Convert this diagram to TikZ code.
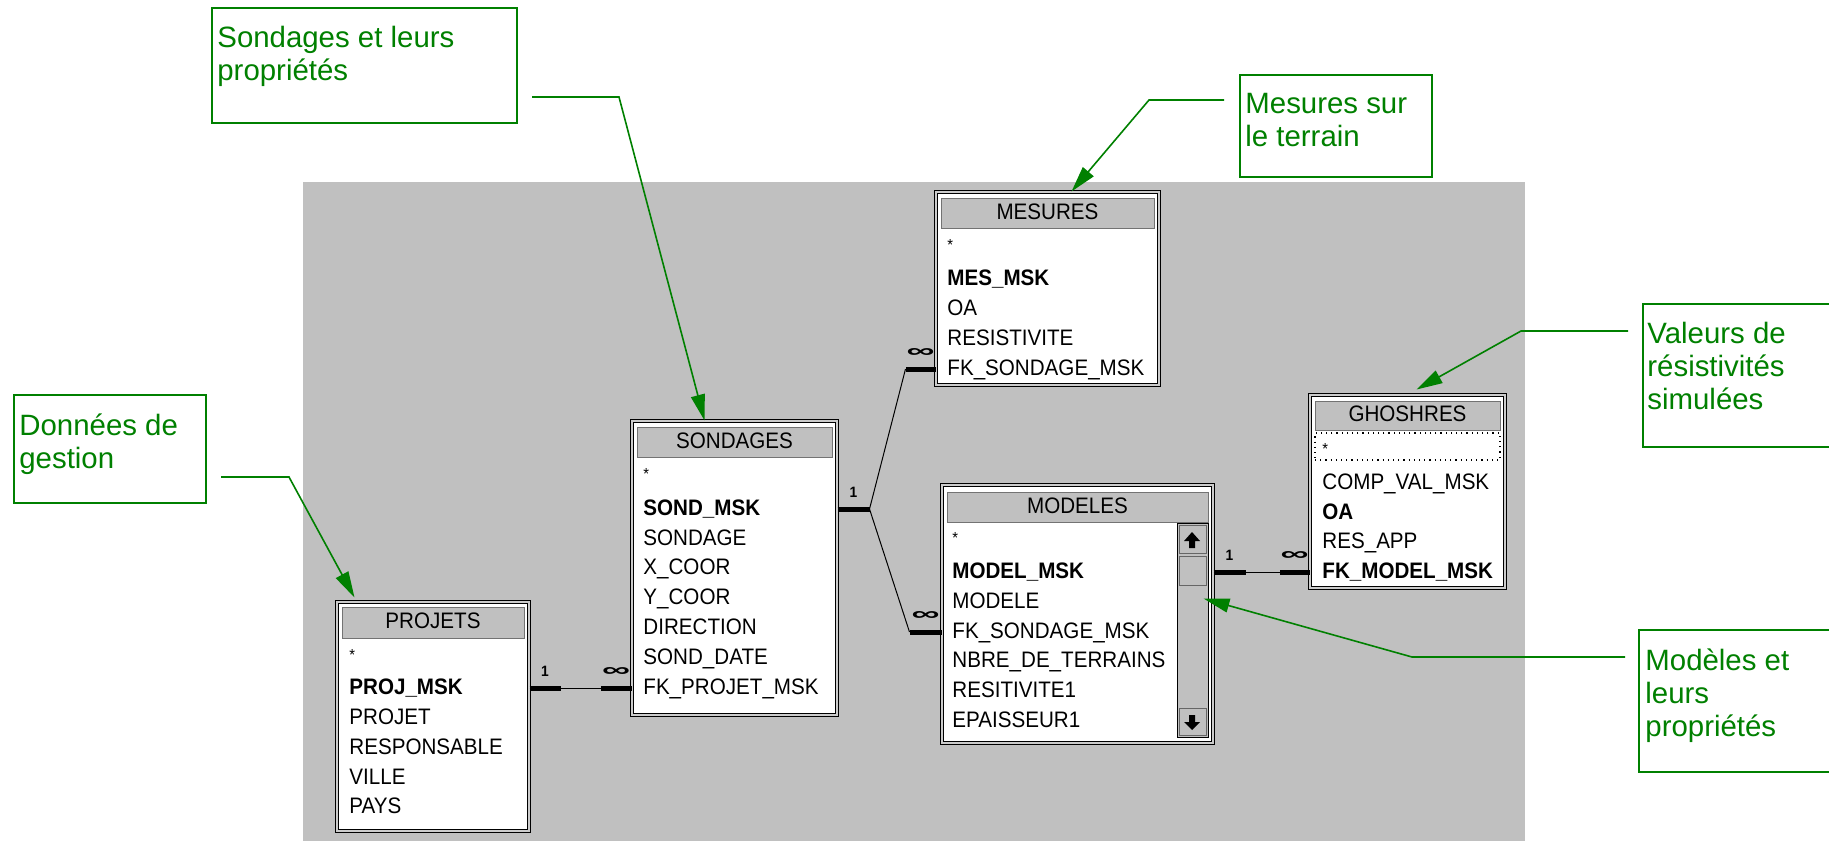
\documentclass[tikz,border=0pt]{standalone}
\usepackage{fontspec}
\usepackage{graphicx}
\setmainfont{Liberation Sans}
\newfontfamily\tblfont[FakeStretch=0.92]{Liberation Sans}
\usetikzlibrary{arrows.meta,fit}
\definecolor{winsilver}{RGB}{192,192,192}
\definecolor{callgreen}{RGB}{0,128,0}
\newcommand{\tblsize}{\fontsize{11.2}{13}\selectfont}
\newcommand{\callsize}{\fontsize{14.7}{16.5}\selectfont}
\newcommand{\many}{\resizebox{14pt}{4.5pt}{∞}}

\begin{document}
\begin{tikzpicture}[x=0.5pt, y=-0.5pt,
    tbl/.style={draw=black, line width=0.5pt, double=black!20, double distance=0.8pt, fill=white, inner sep=0pt},
    titlebar/.style={draw=black!55, fill=winsilver, line width=0.5pt, inner sep=0pt},
    tname/.style={font=\tblfont\tblsize, inner sep=0pt, text height=6pt, text depth=0pt},
    field/.style={anchor=base west, font=\tblfont\tblsize, inner sep=0pt, text height=6pt, text depth=0pt},
    keyfield/.style={field, font=\tblfont\tblsize\bfseries},
    star/.style={anchor=west, font=\tblfont\fontsize{8}{8}\selectfont, inner sep=0pt},
    rel/.style={draw=black, line width=0.5pt},
    relend/.style={draw=black, line width=2.5pt},
    card/.style={above=4.5pt, inner sep=0pt, text depth=0pt, font=\tblfont\fontsize{7.5}{8}\selectfont\bfseries},
    sbbutton/.style={draw=black!60, fill=winsilver, line width=0.5pt, inner sep=0pt},
    callbox/.style={draw=callgreen, line width=0.8pt, fill=white, inner sep=0pt},
    calltext/.style={anchor=base west, inner sep=0pt, text=callgreen, font=\callsize},
    callout/.style={draw=callgreen, line width=0.8pt, -{Triangle[length=13pt, width=7pt]}}
]
    \useasboundingbox (0,0) rectangle (1829,841);

    % Relationship window background
    \fill[winsilver] (303,182) rectangle (1525,841);

    % Callout boxes
    \node[callbox, fit={(212,8) (517,123)}] (callSond) {};
    \node[calltext] (callSondA) at (217,47) {Sondages et leurs};
    \node[calltext] (callSondB) at (217,80) {propriétés};

    \node[callbox, fit={(1240,75) (1432,177)}] (callMes) {};
    \node[calltext] (callMesA) at (1245,113) {Mesures sur};
    \node[calltext] (callMesB) at (1245,146) {le terrain};

    \node[callbox, fit={(1643,304) (1845,447)}] (callVal) {};
    \node[calltext] (callValA) at (1647,343) {Valeurs de};
    \node[calltext] (callValB) at (1647,376) {résistivités};
    \node[calltext] (callValC) at (1647,409) {simulées};

    \node[callbox, fit={(1639,630) (1845,772)}] (callMod) {};
    \node[calltext] (callModA) at (1645,670) {Modèles et};
    \node[calltext] (callModB) at (1645,703) {leurs};
    \node[calltext] (callModC) at (1645,736) {propriétés};

    \node[callbox, fit={(14,395) (206,503)}] (callDon) {};
    \node[calltext] (callDonA) at (19,435) {Données de};
    \node[calltext] (callDonB) at (19,468) {gestion};

    % PROJETS
    \node[tbl, fit={(337,602) (529,831)}] (projets) {};
    \node[titlebar, fit={(342,607) (524,638)}] (projetsT) {};
    \node[tname] (projetsN) at (projetsT) {PROJETS};
    \node[star] (projetsS) at (349,655) {*};
    \node[keyfield] (projmsk) at (349,694) {PROJ\_MSK};
    \node[field] (projet) at (349,724) {PROJET};
    \node[field] (responsable) at (349,754) {RESPONSABLE};
    \node[field] (ville) at (349,784) {VILLE};
    \node[field] (pays) at (349,813) {PAYS};

    % SONDAGES
    \node[tbl, fit={(632,421) (837,715)}] (sondages) {};
    \node[titlebar, fit={(637,427) (832,457)}] (sondagesT) {};
    \node[tname] (sondagesN) at (sondagesT) {SONDAGES};
    \node[star] (sondagesS) at (643,474) {*};
    \node[keyfield] (sondmsk) at (643,515) {SOND\_MSK};
    \node[field] (sondage) at (643,545) {SONDAGE};
    \node[field] (xcoor) at (643,574) {X\_COOR};
    \node[field] (ycoor) at (643,604) {Y\_COOR};
    \node[field] (direction) at (643,634) {DIRECTION};
    \node[field] (sonddate) at (643,664) {SOND\_DATE};
    \node[field] (fkprojet) at (643,694) {FK\_PROJET\_MSK};

    % MESURES
    \node[tbl, fit={(936,192) (1159,385)}] (mesures) {};
    \node[titlebar, fit={(941,198) (1154,228)}] (mesuresT) {};
    \node[tname] (mesuresN) at (mesuresT) {MESURES};
    \node[star] (mesuresS) at (947,245) {*};
    \node[keyfield] (mesmsk) at (947,285) {MES\_MSK};
    \node[field] (oa) at (947,315) {OA};
    \node[field] (resistivite) at (947,345) {RESISTIVITE};
    \node[field] (fksondmes) at (947,375) {FK\_SONDAGE\_MSK};

    % MODELES
    \node[tbl, fit={(942,485) (1213,743)}] (modeles) {};
    \node[titlebar, fit={(947,492) (1208,522)}] (modelesT) {};
    \node[tname] (modelesN) at (modelesT) {MODELES};
    \node[star] (modelesS) at (952,538) {*};
    \node[keyfield] (modelmsk) at (952,578) {MODEL\_MSK};
    \node[field] (modele) at (952,608) {MODELE};
    \node[field] (fksondmod) at (952,638) {FK\_SONDAGE\_MSK};
    \node[field] (nbre) at (952,667) {NBRE\_DE\_TERRAINS};
    \node[field] (resitivite) at (952,697) {RESITIVITE1};
    \node[field] (epaisseur) at (952,727) {EPAISSEUR1};

    % Scroll bar of MODELES
    \node[draw=black, fill=winsilver, line width=0.5pt, inner sep=0pt, fit={(1177,523) (1208,737)}] (scroll) {};
    \node[sbbutton, fit={(1179,525) (1206,553)}] (scrollUp) {};
    \node[sbbutton, fit={(1179,556) (1206,585)}] (scrollThumb) {};
    \node[sbbutton, fit={(1179,708) (1206,735)}] (scrollDown) {};
    \fill (1184,541) -- (1192,532) -- (1200,541) -- (1195,541) -- (1195,548) -- (1189,548) -- (1189,541) -- cycle;
    \fill (1189,715) -- (1195,715) -- (1195,722) -- (1200,722) -- (1192,730) -- (1184,722) -- (1189,722) -- cycle;

    % GHOSHRES
    \node[tbl, fit={(1310,395) (1505,588)}] (ghoshres) {};
    \node[titlebar, fit={(1315,401) (1500,430)}] (ghoshresT) {};
    \node[tname] (ghoshresN) at (ghoshresT) {GHOSHRES};
    \node[draw=black, dotted, line width=0.6pt, inner sep=0pt, fit={(1315,433) (1500,460)}] (ghoshresF) {};
    \node[star] (ghoshresS) at (1322,449) {*};
    \node[field] (compval) at (1322,489) {COMP\_VAL\_MSK};
    \node[keyfield] (oag) at (1322,519) {OA};
    \node[field] (resapp) at (1322,548) {RES\_APP};
    \node[keyfield] (fkmodel) at (1322,578) {FK\_MODEL\_MSK};

    % Projets -- Sondages
    \draw[rel] (projets.east |- projmsk.west) -- (sondages.west |- fkprojet.west);
    \draw[relend] (projets.east |- projmsk.west) -- node[card] {1} ++(31,0);
    \draw[relend] (sondages.west |- fkprojet.west) -- node[card] {\many} ++(-31,0);

    % Sondages -- Mesures, Modeles
    \draw[relend] (sondages.east |- sondmsk.west) -- node[card] {1} ++(32,0) coordinate (sfork);
    \draw[relend] (mesures.west |- fksondmes.west) -- node[card] {\many} ++(-30,0) coordinate (mfork);
    \draw[relend] (modeles.west |- fksondmod.west) -- node[card] {\many} ++(-32,0) coordinate (dfork);
    \draw[rel] (mfork) -- (sfork) -- (dfork);

    % Modeles -- Ghoshres
    \draw[rel] (modeles.east |- modelmsk.west) -- (ghoshres.west |- fkmodel.west);
    \draw[relend] (modeles.east |- modelmsk.west) -- node[card] {1} ++(32,0);
    \draw[relend] (ghoshres.west |- fkmodel.west) -- node[card] {\many} ++(-30,0);

    % Callout leaders
    \coordinate (sondStart) at (532,97);
    \coordinate (sondKnee) at (619,97);
    \draw[callout] (sondStart) -- (sondKnee) -- ([shift={(73,0)}]sondages.north west);

    \coordinate (mesStart) at (1224,100);
    \coordinate (mesKnee) at (1149,100);
    \draw[callout] (mesStart) -- (mesKnee) -- ([shift={(136,0)}]mesures.north west);

    \coordinate (valStart) at (1628,331);
    \coordinate (valKnee) at (1521,331);
    \draw[callout] (valStart) -- (valKnee) -- ([shift={(107,-5)}]ghoshres.north west);

    \coordinate (modStart) at (1625,657);
    \coordinate (modKnee) at (1412,657);
    \draw[callout] (modStart) -- (modKnee) -- ([shift={(-10,114)}]modeles.north east);

    \coordinate (donStart) at (221,477);
    \coordinate (donKnee) at (289,477);
    \draw[callout] (donStart) -- (donKnee) -- ([shift={(18,-4)}]projets.north west);
\end{tikzpicture}
\end{document}
